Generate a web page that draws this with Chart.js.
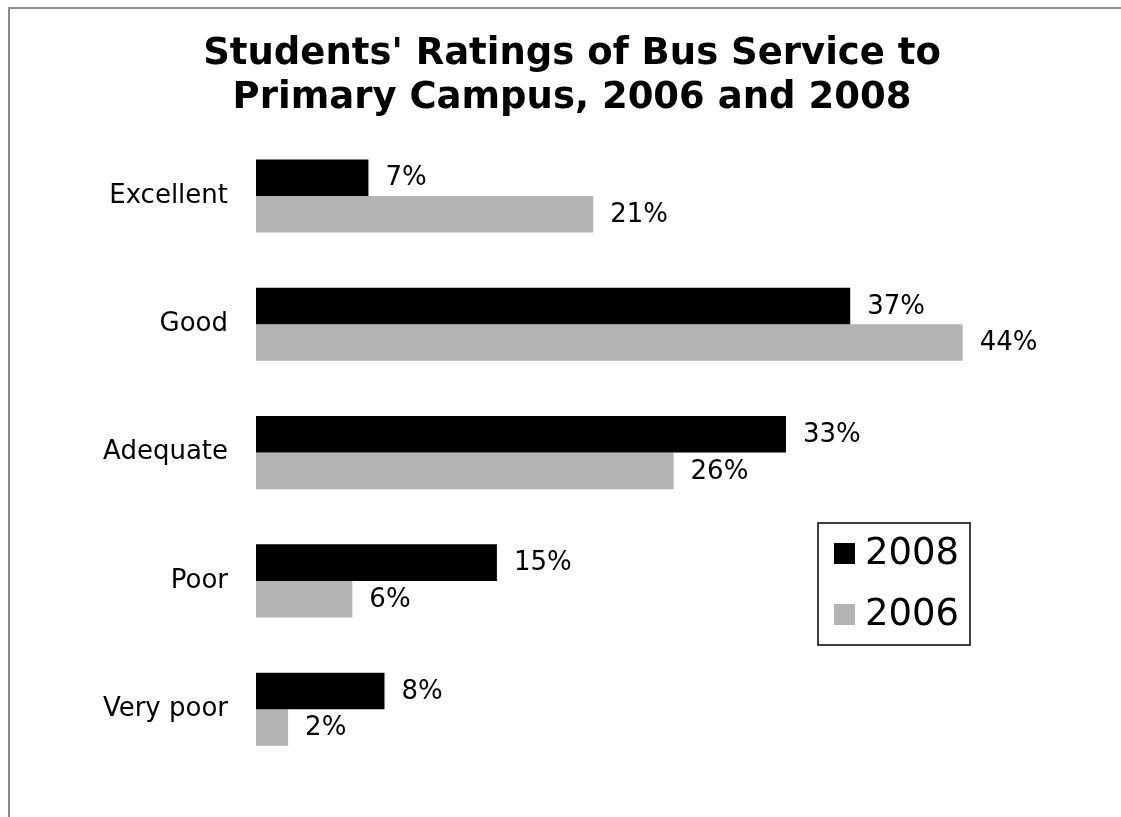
<!DOCTYPE html>
<html>
<head>
<meta charset="utf-8">
<script src="https://cdn.jsdelivr.net/npm/chart.js@4.4.0/dist/chart.umd.min.js"></script>
<style>
  html, body { margin: 0; padding: 0; background: #fff; overflow: hidden; }
  #wrap { position: relative; width: 1121px; height: 817px; }
  #frame { position: absolute; left: 8px; top: 7px; width: 1200px; height: 900px;
           border-left: 2px solid #8c8c8c; border-top: 2px solid #8c8c8c; }
  canvas { position: absolute; left: 0; top: 0; }
</style>
</head>
<body>
<div id="wrap">
  <div id="frame"></div>
  <canvas id="chart" width="1121" height="817"></canvas>
</div>
<script>
// chart data
const categories = ['Excellent', 'Good', 'Adequate', 'Poor', 'Very poor'];
const ratings2008 = [7, 37, 33, 15, 8];
const ratings2006 = [21, 44, 26, 6, 2];
const seriesNames = ['2008', '2006'];

const FONT = '"DejaVu Sans", Verdana, sans-serif';

// value labels at the end of each bar
const barLabels = {
  id: 'barLabels',
  afterDatasetsDraw(chart) {
    const ctx = chart.ctx;
    ctx.save();
    ctx.font = '26px ' + FONT;
    ctx.fillStyle = '#000';
    ctx.textAlign = 'left';
    ctx.textBaseline = 'middle';
    chart.data.datasets.forEach((ds, i) => {
      chart.getDatasetMeta(i).data.forEach((bar, j) => {
        ctx.fillText(ds.data[j] + '%', bar.x + 17, bar.y + 1);
      });
    });
    ctx.restore();
  }
};

// boxed legend sitting inside the plot
const boxLegend = {
  id: 'boxLegend',
  afterDraw(chart) {
    const ctx = chart.ctx;
    const x0 = 818, y0 = 523, w = 152, h = 122;
    ctx.save();
    ctx.strokeStyle = '#000';
    ctx.lineWidth = 1.5;
    ctx.strokeRect(x0, y0, w, h);
    ctx.font = '37px ' + FONT;
    ctx.textBaseline = 'middle';
    chart.data.datasets.forEach((ds, i) => {
      const cy = y0 + 30 + i * 61;
      ctx.fillStyle = ds.backgroundColor;
      ctx.fillRect(x0 + 16, cy - 10, 21, 21);
      ctx.fillStyle = '#000';
      ctx.fillText(ds.label, x0 + 47, cy + 1);
    });
    ctx.restore();
  }
};

new Chart(document.getElementById('chart').getContext('2d'), {
  type: 'bar',
  data: {
    labels: categories,
    datasets: [
      { label: seriesNames[0], data: ratings2008, backgroundColor: '#000000' },
      { label: seriesNames[1], data: ratings2006, backgroundColor: '#b3b3b3' }
    ]
  },
  options: {
    indexAxis: 'y',
    responsive: false,
    animation: false,
    layout: { padding: { left: 85, right: 62, top: 0, bottom: 39 } },
    datasets: { bar: { categoryPercentage: 0.57, barPercentage: 1.0 } },
    scales: {
      x: { display: false, min: 0, max: 50 },
      y: {
        grid: { display: false, drawTicks: false },
        border: { display: false },
        ticks: { color: '#000', font: { family: FONT, size: 26 }, padding: 28 },
        afterFit: s => { s.width = 171; }
      }
    },
    plugins: {
      legend: { display: false },
      tooltip: { enabled: false },
      title: {
        display: true,
        text: ["Students' Ratings of Bus Service to", 'Primary Campus, 2006 and 2008'],
        color: '#000',
        font: { family: FONT, size: 37, weight: 'bold', lineHeight: 1.2 },
        padding: { top: 32, bottom: 11 }
      }
    }
  },
  plugins: [barLabels, boxLegend]
});
</script>
</body>
</html>
